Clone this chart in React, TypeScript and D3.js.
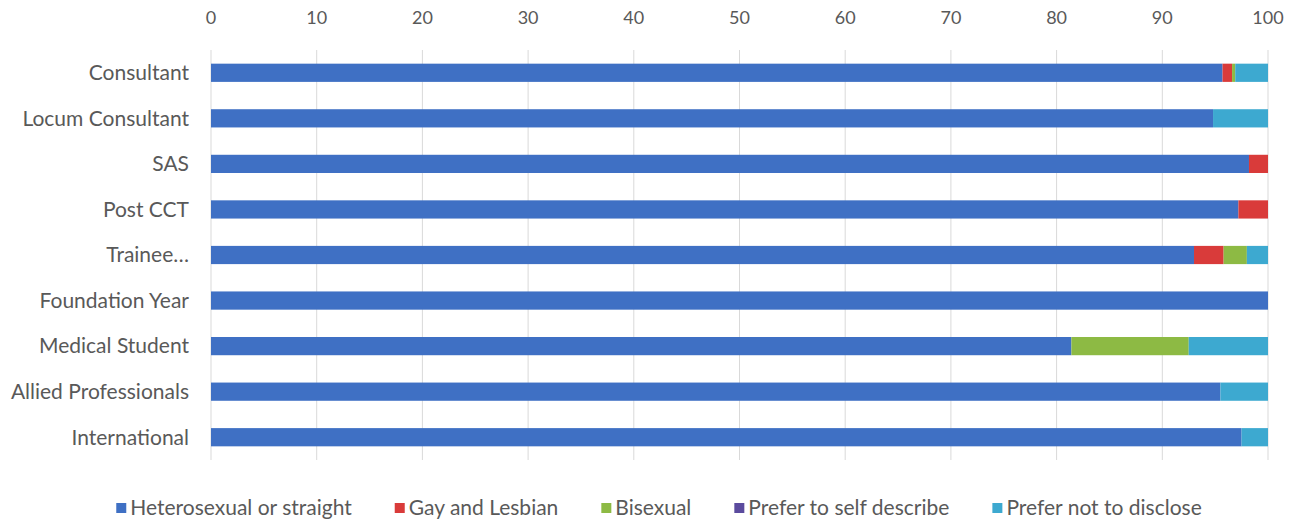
import React, { useEffect, useRef } from "react";
import * as d3 from "d3";

const categories = [
  "Consultant",
  "Locum Consultant",
  "SAS",
  "Post CCT",
  "Trainee…",
  "Foundation Year",
  "Medical Student",
  "Allied Professionals",
  "International",
];
const seriesNames = [
  "Heterosexual or straight",
  "Gay and Lesbian",
  "Bisexual",
  "Prefer to self describe",
  "Prefer not to disclose",
];
const heterosexual = [95.7, 94.8, 98.2, 97.2, 93.0, 100, 81.4, 95.5, 97.5];
const gayLesbian = [0.9, 0, 1.8, 2.8, 2.8, 0, 0, 0, 0];
const bisexual = [0.3, 0, 0, 0, 2.2, 0, 11.1, 0, 0];
const selfDescribe = [0, 0, 0, 0, 0, 0, 0, 0, 0];
const notDisclose = [3.1, 5.2, 0, 0, 2.0, 0, 7.5, 4.5, 2.5];
const xTicks = [0, 10, 20, 30, 40, 50, 60, 70, 80, 90, 100];
const colors = ["#3F70C4", "#D93B3A", "#8DBA44", "#5B4B9E", "#3DA9D0"];

const W = 1300;
const H = 521;
const FONT = "Lato, 'Open Sans', sans-serif";

export default function App() {
  const ref = useRef<SVGSVGElement>(null);
  useEffect(() => {
    const svg = d3.select(ref.current);
    svg.selectAll("*").remove();
    const x = d3.scaleLinear().domain([0, 100]).range([211, 1268]);
    const y = d3.scaleBand().domain(categories).range([50, 460]).paddingInner(0.6).paddingOuter(0.3);

    const rows = categories.map((c, i) => ({
      cat: c,
      s0: heterosexual[i],
      s1: gayLesbian[i],
      s2: bisexual[i],
      s3: selfDescribe[i],
      s4: notDisclose[i],
    }));
    const stack = d3.stack<any>().keys(["s0", "s1", "s2", "s3", "s4"]);
    const layers = stack(rows);

    svg
      .append("g")
      .selectAll("line")
      .data(xTicks)
      .join("line")
      .attr("x1", (d) => x(d))
      .attr("x2", (d) => x(d))
      .attr("y1", 50)
      .attr("y2", 460)
      .attr("stroke", "#d9d9d9")
      .attr("stroke-width", 1);

    svg
      .append("g")
      .selectAll("text")
      .data(xTicks)
      .join("text")
      .attr("x", (d) => x(d))
      .attr("y", 18)
      .attr("dy", "0.35em")
      .attr("text-anchor", "middle")
      .attr("font-family", FONT)
      .attr("font-size", 18)
      .attr("fill", "#595959")
      .text((d) => String(d));

    svg
      .append("g")
      .selectAll("g")
      .data(layers)
      .join("g")
      .attr("fill", (_d, i) => colors[i])
      .selectAll("rect")
      .data((d) => d)
      .join("rect")
      .attr("x", (d) => x(d[0]))
      .attr("width", (d) => Math.max(0, x(d[1]) - x(d[0])))
      .attr("y", (d: any) => y(d.data.cat)!)
      .attr("height", y.bandwidth());

    svg
      .append("g")
      .selectAll("text")
      .data(categories)
      .join("text")
      .attr("x", 189)
      .attr("y", (d) => y(d)! + y.bandwidth() / 2)
      .attr("dy", "0.35em")
      .attr("text-anchor", "end")
      .attr("font-family", FONT)
      .attr("font-size", 21)
      .attr("fill", "#595959")
      .text((d) => d);

    const lg = svg.append("g");
    const items = lg.selectAll("g").data(seriesNames).join("g");
    items
      .append("rect")
      .attr("width", 10)
      .attr("height", 10)
      .attr("y", 503)
      .attr("fill", (_d, i) => colors[i]);
    items
      .append("text")
      .attr("x", 14)
      .attr("y", 508)
      .attr("dy", "0.35em")
      .attr("font-family", FONT)
      .attr("font-size", 21)
      .attr("fill", "#595959")
      .text((d) => d);
    const widths: number[] = [];
    items.each(function () {
      const t = d3.select(this).select("text").node() as SVGTextElement;
      widths.push(14 + t.getComputedTextLength());
    });
    const gap = 43;
    const total = d3.sum(widths) + gap * (widths.length - 1);
    let cx = 659 - total / 2;
    items.attr("transform", (_d, i) => {
      const t = `translate(${cx},0)`;
      cx += widths[i] + gap;
      return t;
    });
  }, []);
  return <svg ref={ref} width={W} height={H} style={{ display: "block", position: "absolute", left: 0, top: 0, background: "#fff" }} />;
}
